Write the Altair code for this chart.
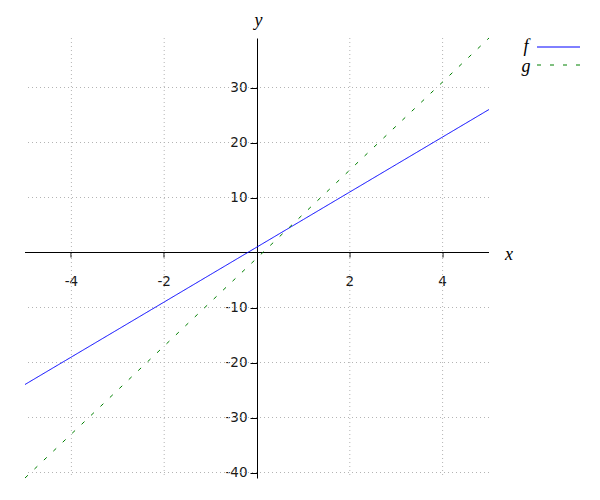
import altair as alt
import pandas as pd

# ---- data ----
xs = [-5, -4, -3, -2, -1, 0, 1, 2, 3, 4, 5]
f_vals = [-24, -19, -14, -9, -4, 1, 6, 11, 16, 21, 26]
g_vals = [-41, -33, -25, -17, -9, -1, 7, 15, 23, 31, 39]
series = ["f", "g"]
x_ticks = [-4, -2, 2, 4]
y_ticks = [-40, -30, -20, -10, 10, 20, 30]
x_domain = [-5, 5]
y_domain = [-41, 39]

df = pd.DataFrame({
    "x": xs * 2,
    "y": f_vals + g_vals,
    "series": ["f"] * len(xs) + ["g"] * len(xs),
})

W, H = 464, 440
# pixel position of the zero lines inside the plot area
y0_px = H * (y_domain[1] - 0) / (y_domain[1] - y_domain[0])
x0_px = W * (0 - x_domain[0]) / (x_domain[1] - x_domain[0])

xscale = alt.Scale(domain=x_domain, nice=False, zero=False)
yscale = alt.Scale(domain=y_domain, nice=False, zero=False)

x_axis = alt.Axis(
    values=x_ticks, offset=y0_px - H, grid=False, translate=0,
    domainColor="black", domainWidth=1, tickColor="black", tickSize=5, tickWidth=1,
    labelExpr="'' + datum.value",
    labelFont="DejaVu Sans", labelFontSize=13.5, labelColor="#1a1a1a", labelPadding=17,
    title="x", titleFont="Liberation Serif", titleFontStyle="italic",
    titleFontWeight="normal", titleFontSize=18, titleColor="black",
    titleAnchor="start", titleAlign="left", titleBaseline="middle",
    titleX=W + 16, titleY=2,
)
y_axis = alt.Axis(
    values=y_ticks, offset=-x0_px, grid=False,
    domainColor="black", domainWidth=1, tickColor="black", tickSize=7, tickWidth=1,
    labelExpr="'' + datum.value",
    labelFont="DejaVu Sans", labelFontSize=13.5, labelColor="#1a1a1a", labelPadding=3,
    title="y", titleFont="Liberation Serif", titleFontStyle="italic",
    titleFontWeight="normal", titleFontSize=18, titleColor="black",
    titleAngle=0, titleAlign="center", titleBaseline="middle",
    titleX=1, titleY=-18,
)

def X(field):
    return alt.X(field, type="quantitative", scale=xscale, axis=x_axis)

def Y(field):
    return alt.Y(field, type="quantitative", scale=yscale, axis=y_axis)

grid_style = dict(color="#b4b4b4", strokeWidth=1, strokeDash=[1, 3])
vgrid = alt.Chart(pd.DataFrame({"gx": x_ticks})).mark_rule(**grid_style).encode(x=X("gx"))
hgrid = alt.Chart(pd.DataFrame({"gy": y_ticks})).mark_rule(**grid_style).encode(y=Y("gy"))

lines = alt.Chart(df).mark_line(strokeWidth=1).encode(
    x=X("x"),
    y=Y("y"),
    color=alt.Color("series:N", scale=alt.Scale(domain=series, range=["#0000ff", "#008000"]), legend=None),
    strokeDash=alt.StrokeDash("series:N", scale=alt.Scale(domain=series, range=[[1, 0], [4, 9]]), legend=None),
)

# legend (label then line sample), placed right of the plot
leg_font = dict(font="Liberation Serif", fontStyle="italic", fontSize=18, color="black",
                align="center", baseline="middle")
leg_f_text = alt.Chart(pd.DataFrame({"s": [series[0]]})).mark_text(**leg_font).encode(
    text="s:N", x=alt.value(501), y=alt.value(9))
leg_g_text = alt.Chart(pd.DataFrame({"s": [series[1]]})).mark_text(**leg_font).encode(
    text="s:N", x=alt.value(501), y=alt.value(29))
leg_f_line = alt.Chart(pd.DataFrame({"s": [series[0]]})).mark_rule(color="#0000ff", strokeWidth=1).encode(
    x=alt.value(512), x2=alt.value(555), y=alt.value(9))
leg_g_line = alt.Chart(pd.DataFrame({"s": [series[1]]})).mark_rule(color="#008000", strokeWidth=1, strokeDash=[4, 9]).encode(
    x=alt.value(512), x2=alt.value(555), y=alt.value(27))

chart = alt.layer(
    vgrid, hgrid, lines, leg_f_text, leg_g_text, leg_f_line, leg_g_line
).properties(
    width=W, height=H,
    autosize=alt.AutoSizeParams(type="none"),
    padding={"left": 17, "top": 30, "right": 100, "bottom": 10},
    background="white",
).configure_view(stroke=None)

chart.save("out.html", embed_options={"renderer": "svg", "actions": False})
